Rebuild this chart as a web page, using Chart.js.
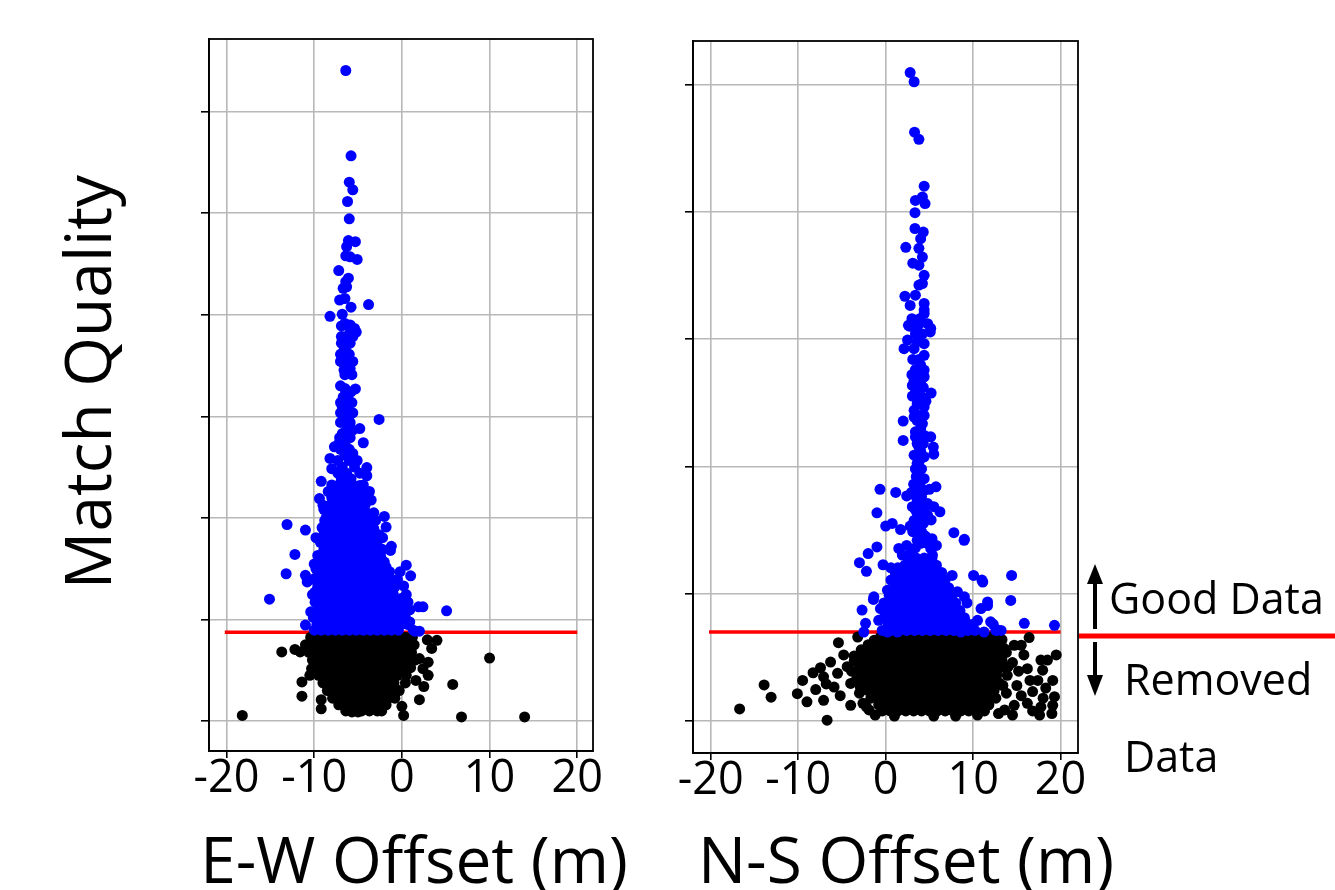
<!DOCTYPE html>
<html>
<head>
<meta charset="utf-8">
<title>Match Quality vs Offset</title>
<script src="https://cdn.jsdelivr.net/npm/chart.js@4.4.1/dist/chart.umd.min.js"></script>
<style>
    html, body { margin: 0; padding: 0; background: #fff; overflow: hidden; }
    #wrap { position: relative; width: 1335px; height: 890px; }
    #ewChart { position: absolute; left: 0; top: 0; }
    #nsChart { position: absolute; left: 640px; top: 0; }
</style>
</head>
<body>
<div id="wrap">
    <canvas id="ewChart" width="640" height="890"></canvas>
    <canvas id="nsChart" width="695" height="890"></canvas>
</div>
<script>
// Ejes
const offsetTicks = [-20, -10, 0, 10, 20];
const ewQualityTicks = [0, 0.2, 0.4, 0.6, 0.8, 1.0, 1.2];
const nsQualityTicks = [0, 0.25, 0.5, 0.75, 1.0, 1.25];
const qualityCutoff = 0.175;
const cutoffSpan = [-20.2, 20];

// E-W: puntos aislados por encima del umbral [offset, calidad]
const ewGoodPts = [
    [-6.4, 1.281], [-5.8, 1.113], [-6.0, 1.061], [-5.6, 1.046], [-6.2, 1.023], [-6.0, 0.989],
    [-6.1, 0.946], [-5.3, 0.944], [-6.3, 0.934], [-6.4, 0.916], [-5.9, 0.914], [-5.1, 0.909],
    [-7.2, 0.887], [-6.1, 0.872], [-6.4, 0.865], [-6.7, 0.852], [-6.3, 0.855], [-7.1, 0.829],
    [-6.5, 0.832], [-5.8, 0.815], [-3.8, 0.820], [-8.2, 0.797], [-6.8, 0.801], [-6.5, 0.783],
    [-5.9, 0.780], [-5.4, 0.773], [-5.9, 0.763], [-5.2, 0.766], [-6.9, 0.744], [-6.3, 0.740],
    [-5.9, 0.744], [-6.6, 0.730], [-6.3, 0.717], [-6.6, 0.704], [-5.9, 0.694], [-6.6, 0.691],
    [-7.0, 0.660], [-6.5, 0.655], [-5.3, 0.654], [-6.7, 0.638], [-6.1, 0.632], [-6.8, 0.619],
    [-6.3, 0.612], [-6.7, 0.599], [-6.1, 0.596], [-2.6, 0.594], [-4.8, 0.576], [-6.8, 0.566],
    [-6.3, 0.560], [-4.4, 0.548], [-7.7, 0.540], [-5.6, 0.527], [-8.2, 0.517], [-8.0, 0.497],
    [-4.0, 0.499], [-4.0, 0.483], [-9.2, 0.472], [-4.8, 0.464], [-9.4, 0.438], [-4.0, 0.433],
    [-3.5, 0.435], [-8.9, 0.417], [-8.6, 0.402], [-2.0, 0.403], [-13.1, 0.387], [-11.0, 0.376],
    [-3.2, 0.379], [-1.8, 0.382], [-9.8, 0.361], [-2.2, 0.361], [-1.2, 0.344], [-1.3, 0.336],
    [-12.2, 0.328], [-9.6, 0.326], [-2.5, 0.340], [-2.0, 0.313], [-1.8, 0.303], [-13.2, 0.290],
    [-11.0, 0.287], [-10.8, 0.274], [-9.8, 0.300], [0.5, 0.307], [1.0, 0.286], [-0.2, 0.294],
    [0.2, 0.266], [-15.1, 0.240], [-9.9, 0.254], [-1.0, 0.251], [0.0, 0.242], [-10.4, 0.215],
    [-11.0, 0.189], [1.9, 0.225], [2.4, 0.225], [5.1, 0.217], [0.9, 0.195], [1.5, 0.177], [2.0, 0.177]
];

// E-W: zona densa por encima del umbral, por filas [calidad, [offsets]]
const ewGoodRows = [
    [0.778, [-6.9, -6.2]],
    [0.757, [-6.9, -6.4, -5.6]],
    [0.722, [-7.0, -6.0]],
    [0.708, [-7.0, -6.3, -5.6]],
    [0.682, [-6.5, -5.7]],
    [0.648, [-6.4, -5.8]],
    [0.627, [-7.0, -6.4, -5.7]],
    [0.607, [-7.0, -5.6]],
    [0.588, [-7.0, -6.5, -5.9]],
    [0.573, [-6.3, -5.6]],
    [0.558, [-7.1, -5.9]],
    [0.546, [-7.2, -6.5]],
    [0.535, [-7.0, -6.0]],
    [0.524, [-6.5]],
    [0.513, [-7.3, -6.0, -5.1]],
    [0.500, [-6.8, -5.4]],
    [0.488, [-7.3, -6.3, -4.8]],
    [0.477, [-6.9, -5.8]],
    [0.465, [-8.0, -7.2, -6.4, -5.6, -4.4]],
    [0.452, [-8.4, -7.6, -6.8, -6.0, -5.2, -4.4, -3.7]],
    [0.440, [-8.0, -7.2, -6.4, -5.6, -4.8]],
    [0.425, [-9.0, -8.2, -7.4, -6.6, -5.8, -5.0, -4.2]],
    [0.410, [-8.0, -7.2, -6.4, -5.6, -4.8, -4.0, -3.2]],
    [0.395, [-8.8, -7.9, -7.1, -6.4, -5.6, -4.7, -3.9, -3.0]],
    [0.381, [-9.1, -8.3, -7.5, -6.8, -6.0, -5.1, -4.3, -3.5]],
    [0.367, [-8.9, -8.1, -7.3, -6.5, -5.7, -4.9, -4.1, -3.3, -2.6]],
    [0.352, [-9.3, -8.5, -7.7, -6.9, -6.1, -5.3, -4.5, -3.7, -2.9]],
    [0.338, [-8.9, -8.1, -7.3, -6.5, -5.7, -4.9, -4.1, -3.3, -2.2]],
    [0.323, [-9.5, -8.7, -7.9, -7.1, -6.3, -5.5, -4.7, -3.9, -3.1, -2.4]],
    [0.309, [-10.0, -9.2, -8.4, -7.6, -6.8, -6.0, -5.2, -4.4, -3.6, -2.8, -2.1]],
    [0.294, [-9.6, -8.8, -8.0, -7.2, -6.4, -5.6, -4.8, -4.0, -3.2, -2.4, -1.4]],
    [0.279, [-10.1, -9.3, -8.5, -7.7, -6.9, -6.1, -5.3, -4.5, -3.7, -2.9, -2.1, -1.3, -0.5]],
    [0.264, [-9.6, -8.8, -8.0, -7.2, -6.4, -5.6, -4.8, -4.0, -3.2, -2.4, -1.6, -0.8]],
    [0.249, [-10.2, -9.4, -8.6, -7.8, -7.0, -6.2, -5.4, -4.6, -3.8, -3.0, -2.2, -1.4, 0.5]],
    [0.234, [-9.9, -9.1, -8.3, -7.5, -6.7, -5.9, -5.1, -4.3, -3.5, -2.7, -1.9, -1.1, -0.3, 0.7]],
    [0.219, [-9.5, -8.7, -7.9, -7.1, -6.3, -5.5, -4.7, -3.9, -3.1, -2.3, -1.5, -0.7, 0.1, 0.9]],
    [0.204, [-10.1, -9.3, -8.5, -7.7, -6.9, -6.1, -5.3, -4.5, -3.7, -2.9, -2.1, -1.3, -0.5, 0.4]],
    [0.190, [-9.7, -8.9, -8.1, -7.3, -6.5, -5.7, -4.9, -4.1, -3.3, -2.5, -1.7, -0.9, -0.1, 0.7]],
    [0.179, [-10.0, -9.2, -8.4, -7.6, -6.8, -6.0, -5.2, -4.4, -3.6, -2.8, -2.0, -1.2, -0.4, 1.3]]
];

// E-W: puntos descartados (por debajo del umbral)
const ewRemovedPts = [
    [-13.7, 0.136], [-12.2, 0.141], [-11.6, 0.136], [4.0, 0.159], [3.4, 0.143], [10.0, 0.124],
    [2.0, 0.123], [3.0, 0.116], [2.4, 0.103], [3.0, 0.090], [-10.3, 0.103], [-10.5, 0.090],
    [5.8, 0.072], [-11.4, 0.077], [-11.4, 0.049], [2.0, 0.042], [-9.2, 0.042], [-9.2, 0.024],
    [0.0, 0.029], [0.2, 0.011], [-2.3, 0.020], [-5.7, 0.018], [-5.0, 0.018], [-18.2, 0.011],
    [6.8, 0.008], [14.0, 0.008], [2.9, 0.160], [2.5, 0.068], [1.6, 0.080]
];
const ewRemovedRows = [
    [0.165, [-10.4, -9.5, -8.6, -7.7, -6.8, -5.9, -5.0, -4.1, -3.2, -2.3, -1.4, -0.5, 0.4, 1.2]],
    [0.150, [-11.0, -10.1, -9.2, -8.3, -7.4, -6.5, -5.6, -4.7, -3.8, -2.9, -2.0, -1.1, -0.2, 0.7, 1.4]],
    [0.135, [-10.6, -9.7, -8.8, -7.9, -7.0, -6.1, -5.2, -4.3, -3.4, -2.5, -1.6, -0.7, 0.2, 1.1]],
    [0.120, [-10.2, -9.3, -8.4, -7.5, -6.6, -5.7, -4.8, -3.9, -3.0, -2.1, -1.2, -0.3, 0.6, 1.5]],
    [0.105, [-9.8, -8.9, -8.0, -7.1, -6.2, -5.3, -4.4, -3.5, -2.6, -1.7, -0.8, 0.1, 1.0]],
    [0.090, [-9.5, -8.6, -7.7, -6.8, -5.9, -5.0, -4.1, -3.2, -2.3, -1.4, -0.5, 0.5]],
    [0.075, [-9.0, -8.1, -7.2, -6.3, -5.4, -4.5, -3.6, -2.7, -1.8, -0.9, 0.4]],
    [0.060, [-8.5, -7.6, -6.7, -5.8, -4.9, -4.0, -3.1, -2.2, -1.3, -0.3]],
    [0.045, [-7.9, -7.0, -6.1, -5.2, -4.3, -3.4, -2.5, -1.5, -0.8]],
    [0.032, [-7.2, -6.3, -5.4, -4.5, -3.6, -2.7, -1.8]],
    [0.020, [-6.4, -5.5, -4.6, -3.7, -2.8]]
];

// N-S: puntos aislados por encima del umbral
const nsGoodPts = [
    [2.8, 1.273], [3.25, 1.255], [3.3, 1.156], [3.8, 1.142], [4.4, 1.050], [3.4, 1.022],
    [4.2, 1.029], [4.5, 1.016], [3.35, 0.998], [3.35, 0.967], [4.3, 0.960], [4.0, 0.947],
    [2.3, 0.930], [3.8, 0.928], [4.2, 0.911], [3.1, 0.899], [3.8, 0.895], [4.4, 0.875],
    [4.2, 0.859], [3.8, 0.856], [2.2, 0.834], [3.4, 0.836], [2.8, 0.816], [4.4, 0.820],
    [4.4, 0.807], [2.6, 0.777], [3.8, 0.780], [4.8, 0.780], [5.15, 0.771], [4.4, 0.800],
    [2.8, 0.775], [3.7, 0.777], [5.1, 0.764], [4.4, 0.741], [2.5, 0.748], [2.1, 0.731],
    [3.25, 0.731], [4.4, 0.718], [4.0, 0.699], [4.4, 0.689], [3.25, 0.669], [4.0, 0.666],
    [3.05, 0.659], [4.4, 0.676], [5.2, 0.644], [3.05, 0.638], [4.2, 0.636], [3.6, 0.623],
    [4.4, 0.617], [3.25, 0.610], [2.0, 0.589], [3.25, 0.597], [4.2, 0.584], [4.0, 0.574],
    [3.4, 0.568], [2.0, 0.551], [5.15, 0.558], [5.45, 0.538], [5.5, 0.524], [3.4, 0.558],
    [3.8, 0.538], [3.25, 0.522], [4.4, 0.519], [3.6, 0.506], [3.8, 0.489], [4.4, 0.476],
    [-0.65, 0.455], [1.15, 0.449], [2.4, 0.442], [2.95, 0.449], [4.4, 0.453], [5.75, 0.460],
    [3.6, 0.434], [4.8, 0.427], [3.05, 0.421], [5.5, 0.421], [6.2, 0.411], [-1.0, 0.409],
    [3.6, 0.408], [4.8, 0.404], [3.25, 0.394], [0.0, 0.383], [0.75, 0.388], [1.7, 0.376],
    [2.8, 0.383], [7.8, 0.370], [9.0, 0.357], [3.8, 0.378], [4.4, 0.365], [3.6, 0.355],
    [4.6, 0.362], [-1.0, 0.342], [-2.0, 0.329], [-3.0, 0.311], [-2.2, 0.294], [1.5, 0.339],
    [1.9, 0.326], [2.9, 0.336], [-0.3, 0.307], [0.6, 0.301], [1.4, 0.301], [2.9, 0.303],
    [4.0, 0.296], [5.15, 0.303], [5.9, 0.290], [7.6, 0.286], [10.05, 0.286], [11.0, 0.277],
    [14.4, 0.286], [2.1, 0.270], [3.25, 0.264], [4.4, 0.270], [5.5, 0.257], [6.7, 0.264],
    [0.2, 0.257], [1.35, 0.260], [-1.35, 0.244], [8.2, 0.254], [9.0, 0.244], [11.65, 0.234],
    [14.3, 0.237], [-2.7, 0.218], [-2.3, 0.192], [-2.5, 0.175], [-1.4, 0.239], [-0.8, 0.198],
    [-0.6, 0.221], [0.95, 0.260], [2.7, 0.257], [0.2, 0.175], [0.95, 0.192], [1.35, 0.175],
    [11.1, 0.273], [10.9, 0.221], [11.65, 0.227], [9.15, 0.195], [10.5, 0.198], [12.0, 0.195],
    [12.8, 0.179], [11.25, 0.175], [15.85, 0.192], [19.3, 0.188], [7.8, 0.179], [8.6, 0.175],
    [4.0, 0.349], [5.15, 0.339], [5.35, 0.326], [8.97, 0.355]
];
const nsGoodRows = [
    [0.790, [3.0, 3.9]],
    [0.760, [3.4, 4.2]],
    [0.745, [3.6]],
    [0.710, [3.1, 3.8]],
    [0.690, [3.4]],
    [0.680, [3.0, 3.7]],
    [0.655, [3.6, 4.3]],
    [0.645, [3.4]],
    [0.628, [3.9, 4.6]],
    [0.600, [3.8, 4.4]],
    [0.590, [3.6]],
    [0.560, [3.9, 4.5]],
    [0.545, [3.6, 4.3]],
    [0.530, [4.0]],
    [0.512, [3.9]],
    [0.495, [3.4, 4.1]],
    [0.480, [3.5]],
    [0.465, [3.2, 3.9]],
    [0.455, [3.8, 5.0]],
    [0.440, [3.5, 4.1]],
    [0.425, [3.9]],
    [0.415, [3.4, 4.4]],
    [0.400, [3.9]],
    [0.395, [5.2]],
    [0.388, [3.6, 4.3]],
    [0.372, [3.1, 4.1]],
    [0.358, [5.3]],
    [0.350, [3.9, 4.6]],
    [0.345, [2.4, 5.8]],
    [0.340, [3.4]],
    [0.320, [2.6, 3.5, 4.4, 5.3]],
    [0.306, [2.2, 3.1, 4.0, 4.9, 5.8]],
    [0.292, [1.1, 1.9, 2.8, 3.7, 4.6, 5.5, 6.4]],
    [0.277, [0.6, 1.5, 2.4, 3.3, 4.2, 5.1, 6.0, 6.8]],
    [0.262, [1.9, 2.8, 3.7, 4.6, 5.5, 6.4, 7.2]],
    [0.247, [0.4, 1.3, 2.2, 3.1, 4.0, 4.9, 5.8, 6.7, 7.6]],
    [0.232, [-0.2, 0.8, 1.7, 2.6, 3.5, 4.4, 5.3, 6.2, 7.1, 8.0, 9.3]],
    [0.217, [0.4, 1.3, 2.2, 3.1, 4.0, 4.9, 5.8, 6.7, 7.6, 8.5]],
    [0.203, [-0.2, 0.8, 1.7, 2.6, 3.5, 4.4, 5.3, 6.2, 7.1, 8.0, 9.0]],
    [0.190, [0.3, 1.3, 2.2, 3.1, 4.0, 4.9, 5.8, 6.7, 7.6, 8.4, 10.0, 12.3]],
    [0.178, [-0.4, 0.6, 1.5, 2.4, 3.3, 4.2, 5.1, 6.0, 6.9, 7.8, 9.4, 10.2, 12.6, 13.2]]
];

// N-S: puntos descartados
const nsRemovedPts = [
    [-16.7, 0.024], [-13.9, 0.071], [-13.1, 0.047], [-6.7, 0.002], [-9.5, 0.080], [-10.1, 0.054],
    [-9.0, 0.038], [-7.45, 0.105], [-6.3, 0.116], [-7.1, 0.087], [-7.1, 0.041], [-5.9, 0.067],
    [-5.4, 0.154], [-4.8, 0.130], [-4.4, 0.107], [-4.0, 0.074], [-4.0, 0.031], [-1.9, 0.022],
    [-3.2, 0.165], [-1.3, 0.159], [-8.3, 0.095], [-8.0, 0.062], [-6.8, 0.073], [-5.5, 0.094],
    [-5.2, 0.050], [-3.6, 0.118], [-3.2, 0.090], [-2.8, 0.140], [-3.0, 0.055], [-2.6, 0.035],
    [16.4, 0.164], [15.5, 0.149], [14.7, 0.149], [15.8, 0.130], [19.5, 0.130], [17.75, 0.120],
    [18.5, 0.120], [17.95, 0.100], [16.2, 0.103], [17.4, 0.080], [19.1, 0.080], [19.3, 0.048],
    [19.1, 0.031], [17.75, 0.028], [17.6, 0.012], [16.2, 0.035], [14.5, 0.012], [14.7, 0.031],
    [13.3, 0.160], [13.8, 0.135], [14.5, 0.115], [15.2, 0.098], [13.9, 0.090], [16.5, 0.080],
    [15.0, 0.070], [18.3, 0.065], [16.8, 0.058], [15.5, 0.050], [13.8, 0.055], [18.0, 0.045],
    [16.8, 0.020], [13.6, 0.022], [19.0, 0.015], [-3.6, 0.128], [-3.9, 0.098], [-3.4, 0.080],
    [-2.9, 0.067], [-2.2, 0.028], [-1.2, 0.012], [13.6, 0.142], [14.0, 0.107], [13.4, 0.070],
    [12.9, 0.015], [1.0, 0.010], [5.5, 0.010], [8.0, 0.010], [10.5, 0.012]
];
const nsRemovedRows = [
    [0.165, [-0.6, 0.3, 1.2, 2.1, 3.0, 3.9, 4.8, 5.7, 6.6, 7.5, 8.4, 9.3, 10.2, 11.1, 12.0, 12.8]],
    [0.150, [-2.0, -1.1, -0.2, 0.7, 1.6, 2.5, 3.4, 4.3, 5.2, 6.1, 7.0, 7.9, 8.8, 9.7, 10.6, 11.5, 12.4, 13.2]],
    [0.135, [-2.4, -1.5, -0.6, 0.3, 1.2, 2.1, 3.0, 3.9, 4.8, 5.7, 6.6, 7.5, 8.4, 9.3, 10.2, 11.1, 12.0, 12.9]],
    [0.120, [-2.8, -1.9, -1.0, -0.1, 0.8, 1.7, 2.6, 3.5, 4.4, 5.3, 6.2, 7.1, 8.0, 8.9, 9.8, 10.7, 11.6, 12.5, 13.3]],
    [0.105, [-3.0, -2.1, -1.2, -0.3, 0.6, 1.5, 2.4, 3.3, 4.2, 5.1, 6.0, 6.9, 7.8, 8.7, 9.6, 10.5, 11.4, 12.3, 13.1]],
    [0.090, [-2.6, -1.7, -0.8, 0.1, 1.0, 1.9, 2.8, 3.7, 4.6, 5.5, 6.4, 7.3, 8.2, 9.1, 10.0, 10.9, 11.8, 12.7]],
    [0.075, [-2.3, -1.4, -0.5, 0.4, 1.3, 2.2, 3.1, 4.0, 4.9, 5.8, 6.7, 7.6, 8.5, 9.4, 10.3, 11.2, 12.1, 13.0]],
    [0.060, [-2.0, -1.1, -0.2, 0.7, 1.6, 2.5, 3.4, 4.3, 5.2, 6.1, 7.0, 7.9, 8.8, 9.7, 10.6, 11.5, 12.4]],
    [0.045, [-1.7, -0.8, 0.1, 1.0, 1.9, 2.8, 3.7, 4.6, 5.5, 6.4, 7.3, 8.2, 9.1, 10.0, 10.9, 11.8, 12.6]],
    [0.032, [-0.8, 0.1, 1.0, 1.9, 2.8, 3.7, 4.6, 5.5, 6.4, 7.3, 8.2, 9.1, 10.0, 10.9, 11.8]],
    [0.020, [-0.4, 0.5, 1.4, 2.3, 3.2, 4.1, 5.0, 5.9, 6.8, 7.7, 8.6, 9.5, 10.4, 11.3]]
];

const FONT = "'Open Sans', sans-serif";
const GOOD_COLOR = '#0000ff';
const REMOVED_COLOR = '#000000';
const CUTOFF_COLOR = '#ff0000';
const GRID_COLOR = '#b8b8b8';
const DOT_RADIUS = 5.5;

function toXY(pts, rows) {
    const out = pts.map(([x, y]) => ({ x, y }));
    rows.forEach(([y, xs]) => xs.forEach(x => out.push({ x, y })));
    return out;
}

// Textos libres (títulos de ejes, leyenda lateral)
function captions(texts) {
    return {
        id: 'captions',
        afterDraw(chart) {
            const ctx = chart.ctx;
            texts.forEach(t => {
                ctx.save();
                ctx.fillStyle = '#000';
                ctx.font = `${t.size}px ${FONT}`;
                ctx.textAlign = t.align || 'left';
                ctx.textBaseline = 'alphabetic';
                ctx.translate(t.x, t.y);
                if (t.rotate) ctx.rotate(t.rotate);
                ctx.fillText(t.text, 0, 0);
                ctx.restore();
            });
        }
    };
}

// Marco completo del área de datos
const frame = {
    id: 'frame',
    beforeDatasetsDraw(chart) {
        const { ctx, chartArea: a } = chart;
        ctx.save();
        ctx.strokeStyle = '#000';
        ctx.lineWidth = 1.8;
        ctx.strokeRect(a.left, a.top, a.right - a.left, a.bottom - a.top);
        ctx.restore();
    }
};

// Línea roja y flechas a la derecha del panel N-S
const cutoffKey = {
    id: 'cutoffKey',
    afterDraw(chart) {
        const ctx = chart.ctx;
        const yLine = 636;
        ctx.save();
        ctx.strokeStyle = CUTOFF_COLOR;
        ctx.lineWidth = 5;
        ctx.beginPath();
        ctx.moveTo(439, yLine);
        ctx.lineTo(695, yLine);
        ctx.stroke();

        ctx.strokeStyle = '#000';
        ctx.fillStyle = '#000';
        ctx.lineWidth = 4;
        const ax = 455;
        // flecha hacia arriba
        ctx.beginPath();
        ctx.moveTo(ax, 629);
        ctx.lineTo(ax, 580);
        ctx.stroke();
        ctx.beginPath();
        ctx.moveTo(ax, 564);
        ctx.lineTo(ax - 8, 584);
        ctx.lineTo(ax + 8, 584);
        ctx.closePath();
        ctx.fill();
        // flecha hacia abajo
        ctx.beginPath();
        ctx.moveTo(ax, 642);
        ctx.lineTo(ax, 680);
        ctx.stroke();
        ctx.beginPath();
        ctx.moveTo(ax, 696);
        ctx.lineTo(ax - 8, 675);
        ctx.lineTo(ax + 8, 675);
        ctx.closePath();
        ctx.fill();
        ctx.restore();
    }
};

function makePanel(canvasId, cfg) {
    const ctx = document.getElementById(canvasId).getContext('2d');
    const gridOpts = {
        color: GRID_COLOR,
        lineWidth: 1.6,
        tickColor: '#000',
        tickWidth: 1.6
    };
    return new Chart(ctx, {
        type: 'scatter',
        data: {
            datasets: [
                {
                    label: 'Good Data',
                    data: cfg.good,
                    pointRadius: DOT_RADIUS,
                    pointBorderWidth: 0,
                    pointBackgroundColor: GOOD_COLOR,
                    borderColor: GOOD_COLOR
                },
                {
                    label: 'Removed Data',
                    data: cfg.removed,
                    pointRadius: DOT_RADIUS,
                    pointBorderWidth: 0,
                    pointBackgroundColor: REMOVED_COLOR,
                    borderColor: REMOVED_COLOR
                },
                {
                    label: 'Cutoff',
                    data: cutoffSpan.map(x => ({ x, y: qualityCutoff })),
                    showLine: true,
                    pointRadius: 0,
                    borderColor: CUTOFF_COLOR,
                    borderWidth: 3.5
                }
            ]
        },
        options: {
            responsive: false,
            animation: false,
            layout: { padding: cfg.padding },
            plugins: {
                legend: { display: false },
                tooltip: { enabled: false }
            },
            scales: {
                x: {
                    type: 'linear',
                    min: cfg.xRange[0],
                    max: cfg.xRange[1],
                    afterBuildTicks: axis => { axis.ticks = offsetTicks.map(v => ({ value: v })); },
                    afterFit: axis => { axis.height = cfg.xAxisHeight; },
                    grid: { ...gridOpts, tickLength: 7 },
                    border: { display: true, color: '#000', width: 1.8 },
                    ticks: {
                        color: '#000',
                        padding: -1,
                        maxRotation: 0,
                        font: { family: FONT, size: 45, lineHeight: 1 }
                    }
                },
                y: {
                    type: 'linear',
                    min: cfg.yRange[0],
                    max: cfg.yRange[1],
                    afterBuildTicks: axis => { axis.ticks = cfg.yTicks.map(v => ({ value: v })); },
                    grid: { ...gridOpts, tickLength: 8 },
                    border: { display: true, color: '#000', width: 1.8 },
                    ticks: { display: false }
                }
            }
        },
        plugins: [frame, captions(cfg.texts)].concat(cfg.extra || [])
    });
}

Chart.defaults.font.family = FONT;

makePanel('ewChart', {
    good: toXY(ewGoodPts, ewGoodRows),
    removed: toXY(ewRemovedPts, ewRemovedRows),
    xRange: [-22.0, 21.8],
    yRange: [-0.059, 1.343],
    yTicks: ewQualityTicks,
    padding: { left: 201, right: 47, top: 39, bottom: 0 },
    xAxisHeight: 139,
    texts: [
        { text: 'Match Quality', size: 64, x: 111, y: 382, align: 'center', rotate: -Math.PI / 2 },
        { text: 'E-W Offset (m)', size: 64, x: 414, y: 883, align: 'center' }
    ]
});

makePanel('nsChart', {
    good: toXY(nsGoodPts, nsGoodRows),
    removed: toXY(nsRemovedPts, nsRemovedRows),
    xRange: [-22.03, 21.99],
    yRange: [-0.0625, 1.335],
    yTicks: nsQualityTicks,
    padding: { left: 45, right: 257, top: 41, bottom: 0 },
    xAxisHeight: 137,
    texts: [
        { text: 'N-S Offset (m)', size: 64, x: 266, y: 883, align: 'center' },
        { text: 'Good Data', size: 43, x: 469, y: 614 },
        { text: 'Removed', size: 43, x: 484, y: 695 },
        { text: 'Data', size: 43, x: 484, y: 772 }
    ],
    extra: [cutoffKey]
});
</script>
</body>
</html>
